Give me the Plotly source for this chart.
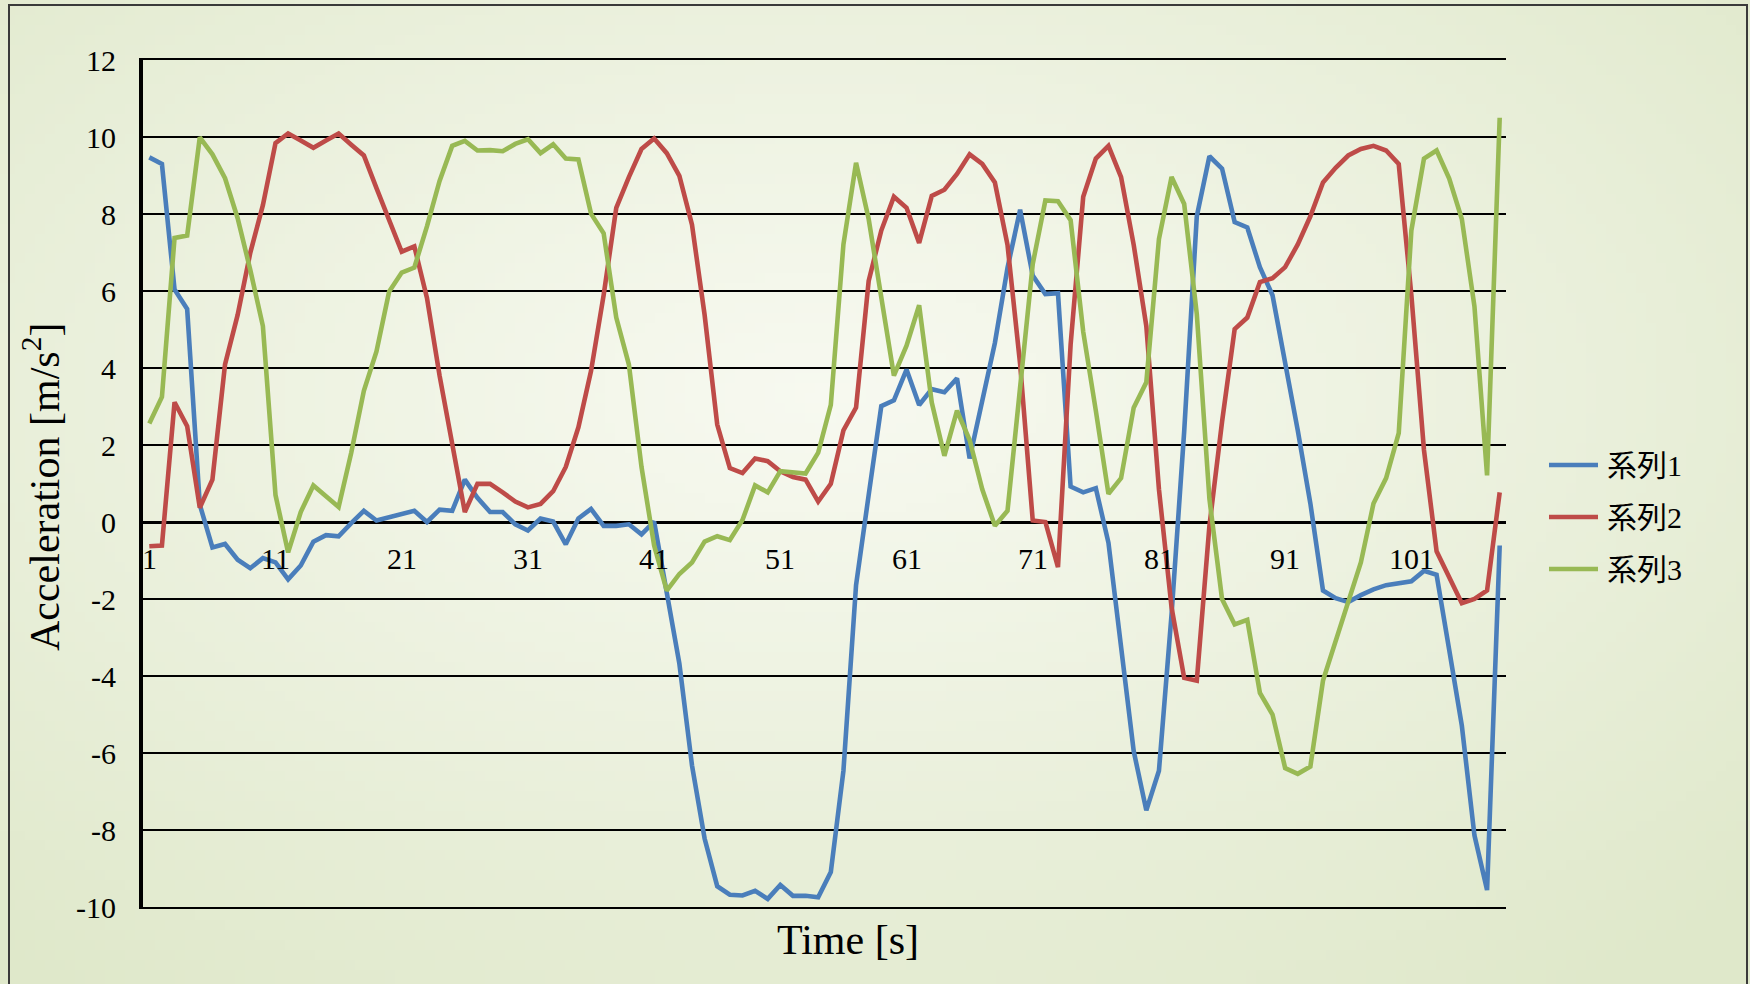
import base64
import math
import struct
import zlib

import plotly.graph_objects as go

# ---- data -------------------------------------------------------------
time_idx = list(range(1, 109))

series_1 = [
    9.47, 9.30, 6.04, 5.53, 0.45, -0.66, -0.57, -0.98, -1.20, -0.94,
    -1.05, -1.49, -1.13, -0.51, -0.34, -0.37, -0.03, 0.29, 0.04, 0.12,
    0.22, 0.29, 0.00, 0.32, 0.29, 1.10, 0.63, 0.26, 0.26, -0.06,
    -0.22, 0.09, 0.01, -0.58, 0.09, 0.34, -0.10, -0.10, -0.06, -0.32,
    0.01, -1.86, -3.68, -6.32, -8.22, -9.46, -9.68, -9.70, -9.58, -9.79,
    -9.43, -9.71, -9.71, -9.75, -9.09, -6.46, -1.64, 0.70, 3.01, 3.16,
    3.96, 3.04, 3.45, 3.37, 3.73, 1.65, 3.19, 4.65, 6.60, 8.11,
    6.40, 5.92, 5.94, 0.92, 0.77, 0.88, -0.54, -3.25, -5.95, -7.49,
    -6.46, -2.40, 2.35, 7.94, 9.50, 9.18, 7.79, 7.65, 6.62, 5.89,
    4.21, 2.38, 0.48, -1.78, -1.98, -2.08, -1.90, -1.75, -1.64, -1.60,
    -1.54, -1.27, -1.37, -3.32, -5.29, -8.14, -9.56, -0.61,
]

series_2 = [
    -0.63, -0.61, 3.11, 2.49, 0.37, 1.10, 4.09, 5.38, 6.99, 8.23,
    9.84, 10.09, 9.91, 9.72, 9.91, 10.09, 9.80, 9.52, 8.67, 7.84,
    7.02, 7.16, 5.82, 3.80, 2.02, 0.26, 0.99, 0.99, 0.77, 0.53,
    0.38, 0.47, 0.80, 1.43, 2.46, 3.92, 5.89, 8.16, 8.96, 9.69,
    9.96, 9.58, 8.99, 7.72, 5.38, 2.53, 1.40, 1.27, 1.65, 1.58,
    1.32, 1.17, 1.10, 0.53, 0.99, 2.38, 2.97, 6.26, 7.57, 8.45,
    8.16, 7.25, 8.47, 8.63, 9.04, 9.55, 9.30, 8.82, 7.20, 4.10,
    0.04, 0.00, -1.17, 4.60, 8.45, 9.44, 9.77, 8.96, 7.20, 5.09,
    0.85, -2.22, -4.05, -4.12, -0.10, 2.60, 5.01, 5.31, 6.23, 6.33,
    6.62, 7.21, 7.94, 8.82, 9.20, 9.52, 9.69, 9.77, 9.65, 9.30,
    5.90, 1.87, -0.76, -1.42, -2.11, -2.00, -1.78, 0.77,
]

series_3 = [
    2.56, 3.25, 7.38, 7.44, 9.99, 9.55, 8.93, 7.89, 6.55, 5.09,
    0.70, -0.79, 0.26, 0.95, 0.67, 0.39, 1.80, 3.41, 4.43, 5.98,
    6.48, 6.61, 7.68, 8.86, 9.77, 9.90, 9.65, 9.66, 9.63, 9.82,
    9.94, 9.58, 9.81, 9.44, 9.42, 8.01, 7.50, 5.31, 4.09, 1.43,
    -0.61, -1.78, -1.35, -1.05, -0.51, -0.37, -0.47, 0.05, 0.95, 0.77,
    1.32, 1.29, 1.26, 1.80, 3.04, 7.21, 9.33, 7.87, 5.82, 3.80,
    4.58, 5.63, 3.10, 1.72, 2.89, 2.13, 0.85, -0.10, 0.29, 3.50,
    6.70, 8.35, 8.33, 7.84, 4.94, 2.89, 0.73, 1.14, 2.97, 3.63,
    7.35, 8.96, 8.26, 5.40, 0.60, -2.00, -2.66, -2.54, -4.44, -5.00,
    -6.39, -6.54, -6.35, -4.12, -3.10, -2.08, -1.05, 0.48, 1.14, 2.31,
    7.57, 9.44, 9.65, 8.92, 7.87, 5.60, 1.21, 10.50,
]

series_names = ["系列1", "系列2", "系列3"]

x_tick_vals = [1, 11, 21, 31, 41, 51, 61, 71, 81, 91, 101]
x_tick_text = ["1", "11", "21", "31", "41", "51", "61", "71", "81", "91", "101"]

y_tick_vals = [12, 10, 8, 6, 4, 2, 0, -2, -4, -6, -8, -10]
y_tick_text = ["12", "10", "8", "6", "4", "2", "0", "-2", "-4", "-6", "-8", "-10"]

x_title = "Time [s]"
y_title = "Acceleration [m/s<sup>2</sup>]"

# ---- styling ----------------------------------------------------------
W, H = 1750, 984
M_L, M_R, M_T, M_B = 143, 244, 60, 77
PW, PH = W - M_L - M_R, H - M_T - M_B

SERIF = "Liberation Serif, 'Times New Roman', 'Noto Sans CJK JP', serif"
COLORS = ["#4A7EBB", "#BE4B48", "#98B954"]
LINE_W = 4.6


def px_x(px):
    """Figure pixel column -> paper x."""
    return (px - M_L) / PW


def px_y(py):
    """Figure pixel row -> paper y."""
    return 1 - (py - M_T) / PH


def gradient_png(w, h, inner, outer, cx, cy):
    """Soft radial gradient encoded as a PNG data URI."""
    rows = []
    for j in range(h):
        row = bytearray([0])
        for i in range(w):
            dx = (i / (w - 1) - cx) / 0.75
            dy = (j / (h - 1) - cy) / 0.75
            t = min(1.0, math.sqrt(dx * dx + dy * dy))
            t = t ** 1.1
            for k in range(3):
                row.append(int(round(inner[k] * (1 - t) + outer[k] * t)))
        rows.append(bytes(row))
    raw = b"".join(rows)

    def chunk(tag, data):
        c = struct.pack(">I", len(data)) + tag + data
        return c + struct.pack(">I", zlib.crc32(tag + data) & 0xFFFFFFFF)

    png = b"\x89PNG\r\n\x1a\n"
    png += chunk(b"IHDR", struct.pack(">IIBBBBB", w, h, 8, 2, 0, 0, 0))
    png += chunk(b"IDAT", zlib.compress(raw, 9))
    png += chunk(b"IEND", b"")
    return "data:image/png;base64," + base64.b64encode(png).decode()


bg_uri = gradient_png(175, 99, (247, 249, 240), (223, 232, 202), 0.47, 0.40)

fig = go.Figure()

for name, ys, col in zip(series_names, [series_1, series_2, series_3], COLORS):
    fig.add_trace(
        go.Scatter(
            x=time_idx,
            y=ys,
            mode="lines",
            name=name,
            line=dict(color=col, width=LINE_W),
            hoverinfo="skip",
            showlegend=False,
        )
    )

# category labels sit just under the zero line
annotations = [
    dict(
        x=v, y=0, xref="x", yref="y", text=t, showarrow=False,
        xanchor="center", yanchor="top", yshift=-18,
        font=dict(family=SERIF, size=30, color="black"),
    )
    for v, t in zip(x_tick_vals, x_tick_text)
]

annotations.append(
    dict(
        x=px_x(847.5), y=px_y(940),
        xref="paper", yref="paper", text=x_title, showarrow=False,
        xanchor="center", yanchor="middle",
        font=dict(family=SERIF, size=42, color="black"),
    )
)
annotations.append(
    dict(
        x=px_x(41), y=px_y(487),
        xref="paper", yref="paper", text=y_title, showarrow=False,
        textangle=-90, xanchor="center", yanchor="middle",
        font=dict(family=SERIF, size=42, color="black"),
    )
)

# legend: short line sample followed by the series name
shapes = []
legend_rows = [465, 517, 569]
for name, col, row in zip(series_names, COLORS, legend_rows):
    shapes.append(
        dict(
            type="line", xref="paper", yref="paper",
            x0=px_x(1549), x1=px_x(1598), y0=px_y(row), y1=px_y(row),
            line=dict(color=col, width=LINE_W),
        )
    )
    annotations.append(
        dict(
            x=px_x(1605), y=px_y(row), xref="paper", yref="paper",
            text=name, showarrow=False, xanchor="left", yanchor="middle",
            font=dict(family=SERIF, size=30, color="black"),
        )
    )

# chart frame
shapes.append(
    dict(
        type="rect", xref="paper", yref="paper",
        x0=px_x(9), x1=px_x(W - 3), y0=px_y(H + 20), y1=px_y(5),
        line=dict(color="#3A3A3A", width=2), fillcolor="rgba(0,0,0,0)",
        layer="above",
    )
)

fig.update_layout(
    width=W,
    height=H,
    autosize=False,
    margin=dict(l=M_L, r=M_R, t=M_T, b=M_B, pad=0),
    paper_bgcolor="#E9EFDC",
    plot_bgcolor="rgba(0,0,0,0)",
    font=dict(family=SERIF, color="black"),
    showlegend=False,
    xaxis=dict(
        range=[0.5, len(time_idx) + 0.5],
        showgrid=False,
        zeroline=False,
        showticklabels=False,
        ticks="",
        showline=True,
        mirror=True,
        linecolor="black",
        linewidth=2,
        fixedrange=True,
    ),
    yaxis=dict(
        range=[y_tick_vals[-1], y_tick_vals[0]],
        tickvals=y_tick_vals,
        ticktext=y_tick_text,
        tickfont=dict(family=SERIF, size=30, color="black"),
        ticks="",
        ticklabelstandoff=17,
        showgrid=True,
        gridcolor="black",
        gridwidth=2,
        zeroline=True,
        zerolinecolor="black",
        zerolinewidth=3,
        showline=True,
        linecolor="black",
        linewidth=4,
        fixedrange=True,
    ),
    annotations=annotations,
    shapes=shapes,
    images=[
        dict(
            source=bg_uri, xref="paper", yref="paper",
            x=-M_L / PW, y=1 + M_T / PH,
            sizex=W / PW, sizey=H / PH,
            xanchor="left", yanchor="top",
            sizing="stretch", layer="below",
        )
    ],
)

fig.write_html("out.html", config={"displayModeBar": False})
